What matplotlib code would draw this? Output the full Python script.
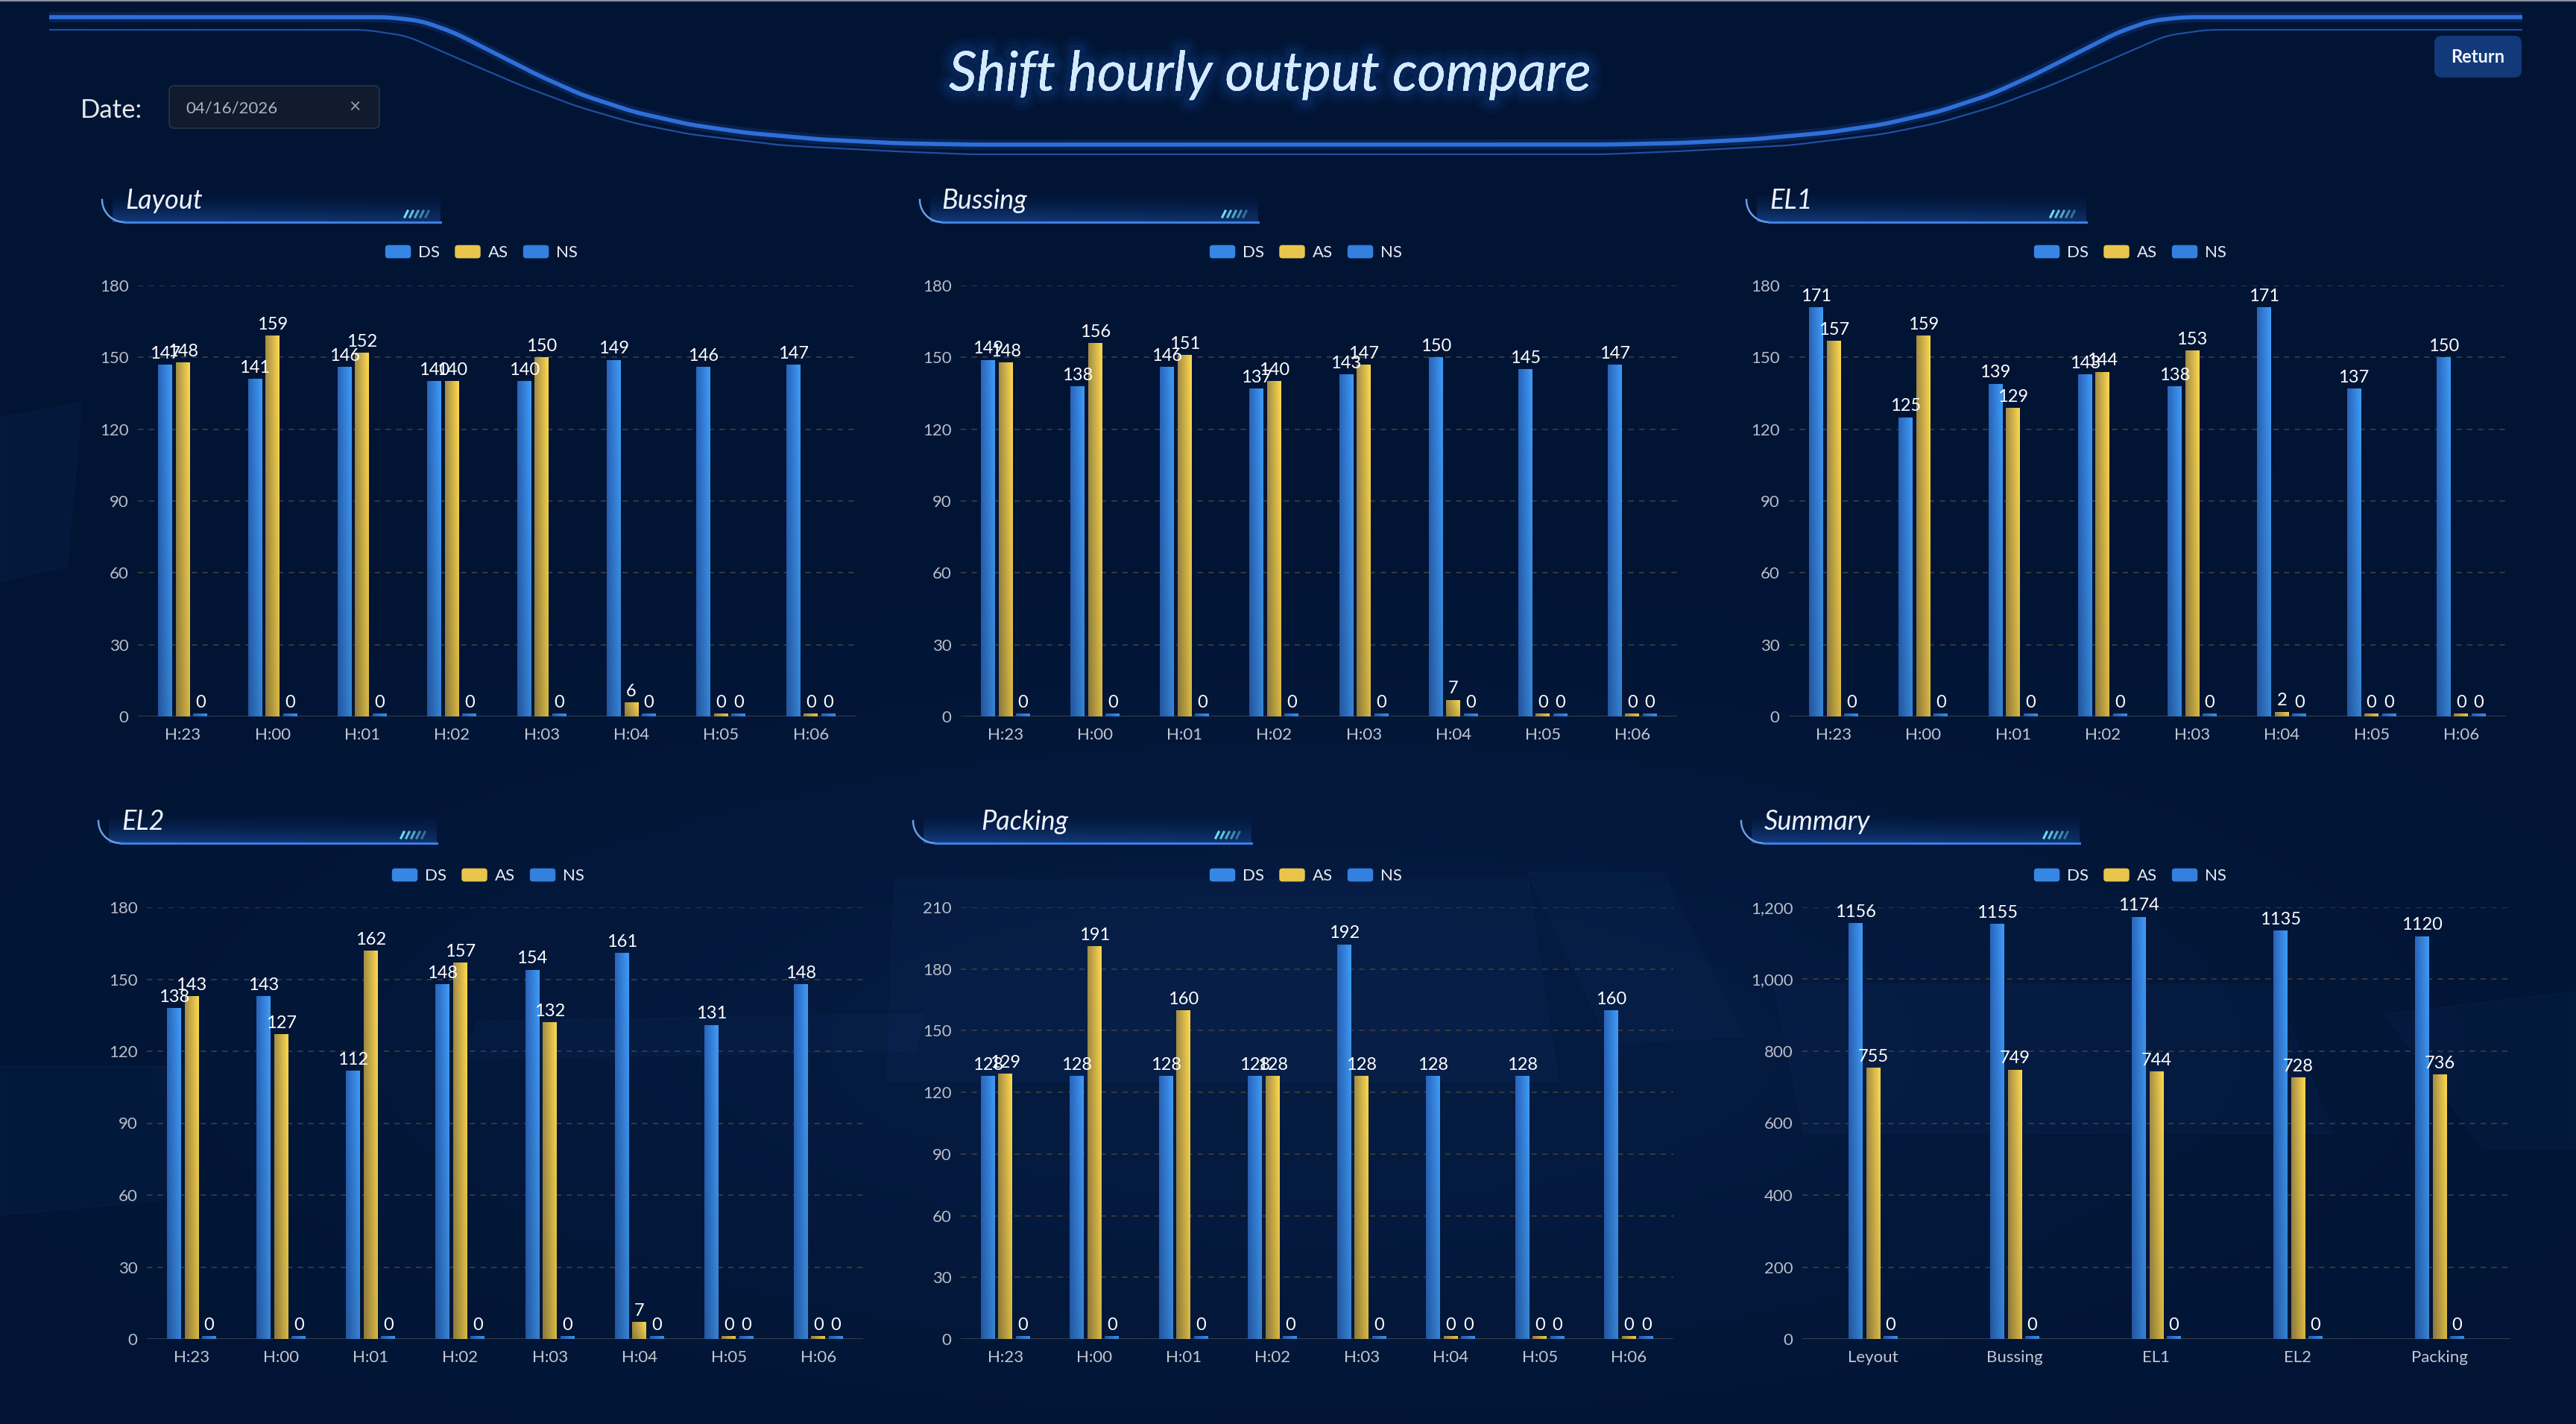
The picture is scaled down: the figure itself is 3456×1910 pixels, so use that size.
import numpy as np
import matplotlib
matplotlib.use('Agg')
from matplotlib import pyplot as plt
from matplotlib.patches import Patch, FancyBboxPatch, Polygon
from matplotlib.legend_handler import HandlerPatch
from matplotlib.ticker import FuncFormatter
import matplotlib.patheffects as pe

plt.rcParams['font.family'] = ['Lato', 'DejaVu Sans']

W, H = 3456, 1910

# ---------------- data ----------------
hours = ['H:23', 'H:00', 'H:01', 'H:02', 'H:03', 'H:04', 'H:05', 'H:06']

layout_ds = [147, 141, 146, 140, 140, 149, 146, 147]
layout_as = [148, 159, 152, 140, 150, 6, 0, 0]
layout_ns = [0, 0, 0, 0, 0, 0, 0, 0]

bussing_ds = [149, 138, 146, 137, 143, 150, 145, 147]
bussing_as = [148, 156, 151, 140, 147, 7, 0, 0]
bussing_ns = [0, 0, 0, 0, 0, 0, 0, 0]

el1_ds = [171, 125, 139, 143, 138, 171, 137, 150]
el1_as = [157, 159, 129, 144, 153, 2, 0, 0]
el1_ns = [0, 0, 0, 0, 0, 0, 0, 0]

el2_ds = [138, 143, 112, 148, 154, 161, 131, 148]
el2_as = [143, 127, 162, 157, 132, 7, 0, 0]
el2_ns = [0, 0, 0, 0, 0, 0, 0, 0]

packing_ds = [128, 128, 128, 128, 192, 128, 128, 160]
packing_as = [129, 191, 160, 128, 128, 0, 0, 0]
packing_ns = [0, 0, 0, 0, 0, 0, 0, 0]

lines = ['Leyout', 'Bussing', 'EL1', 'EL2', 'Packing']
summary_ds = [1156, 1155, 1174, 1135, 1120]
summary_as = [755, 749, 744, 728, 736]
summary_ns = [0, 0, 0, 0, 0]

series_names = ['DS', 'AS', 'NS']

# ---------------- style ----------------
BG = '#011434'
BLUE_L, BLUE_R = '#2a64ba', '#3f9cf8'
GOLD_L, GOLD_R = '#a38d48', '#ffd94e'
TICK_C = '#b9bec8'

fig = plt.figure(figsize=(W / 100, H / 100), dpi=100, facecolor=BG)

# background / decoration layer in pixel coords (y down)
bg = fig.add_axes([0, 0, 1, 1], zorder=-10)
bg.set_xlim(0, W)
bg.set_ylim(H, 0)
bg.axis('off')
bg.set_facecolor(BG)

# soft haze in the lower half
yy, xx = np.mgrid[0:H:10, 0:W:10]
haze = np.exp(-(((xx - 1750) / 1300) ** 2 + ((yy - 1400) / 420) ** 2))
rgba = np.zeros(haze.shape + (4,))
rgba[..., 0], rgba[..., 1], rgba[..., 2] = 0.10, 0.25, 0.50
rgba[..., 3] = haze * 0.18
bg.imshow(rgba, extent=[0, W, H, 0], aspect='auto', zorder=0)

# faint tiles
tiles = [
    [(640, 1370), (1240, 1360), (1230, 1410), (620, 1420)],
    [(1200, 1180), (2050, 1180), (2090, 1450), (1190, 1450)],
    [(2050, 1170), (2230, 1170), (2340, 1390), (2160, 1400)],
    [(2380, 1320), (3050, 1320), (3130, 1520), (2420, 1520)],
    [(0, 1430), (260, 1430), (220, 1610), (0, 1630)],
    [(3200, 1360), (3456, 1330), (3456, 1540), (3330, 1540)],
    [(0, 560), (110, 540), (90, 760), (0, 780)],
]
for t in tiles:
    bg.add_patch(Polygon(t, closed=True, fc='#2a5aa8', ec='#3a6cc0', lw=1, alpha=0.06, zorder=1))

# top border line
bg.plot([0, W], [1.5, 1.5], color='#8c929c', lw=1.5, zorder=2)

# header swoop lines (mirrored about the page centre)
cx = 1725
up_pts = [(66, 23), (520, 23), (565, 28), (610, 44), (665, 72), (720, 100), (780, 127),
          (850, 150), (925, 167), (1000, 178), (1100, 187), (1200, 192), (1300, 194)]
lo_pts = [(66, 40), (490, 40), (545, 48), (625, 83), (700, 115), (775, 143), (850, 165),
          (925, 180), (1050, 195), (1200, 203), (1300, 207)]


def mirrored(pts):
    x = [p[0] for p in pts]
    y = [p[1] for p in pts]
    xs = np.linspace(x[0], 2 * cx - x[0], 1500)
    xr = np.where(xs <= cx, xs, 2 * cx - xs)
    ys = np.interp(xr, x, y)
    # light smoothing of the polyline corners
    k = np.ones(15) / 15
    ys = np.convolve(np.pad(ys, 7, mode='edge'), k, mode='valid')
    return xs, ys


xs, ys = mirrored(up_pts)
bg.plot(xs, ys, color='#2f6fd8', lw=4, solid_capstyle='butt', zorder=3,
        path_effects=[pe.Stroke(linewidth=10, foreground='#1b4fa8', alpha=0.25), pe.Normal()])
xs, ys = mirrored(lo_pts)
bg.plot(xs, ys, color='#1f4f9f', lw=1.6, solid_capstyle='butt', zorder=3)

# title with soft glow
glow = [pe.withStroke(linewidth=w, foreground='#1a5cc0', alpha=a) for w, a in [(26, 0.06), (18, 0.08), (11, 0.12)]]
bg.text(1704, 101, 'Shift hourly output compare', ha='center', va='center', fontsize=53,
        style='italic', color='#d4eaff', zorder=5,
        path_effects=glow + [pe.Normal()])

# date picker
bg.text(108, 148, 'Date:', ha='left', va='center', fontsize=25, color='#e6e8ec')
bg.add_patch(FancyBboxPatch((227, 115), 282, 57, boxstyle='round,pad=0,rounding_size=7',
                            fc='#111b2e', ec='#2a3446', lw=1.2, zorder=2))
bg.text(249, 146, '04/16/2026', ha='left', va='center', fontsize=16, color='#aeb3bc', zorder=3)
bg.text(476, 143, '×', ha='center', va='center', fontsize=19, color='#9aa0aa', zorder=3)

# return button
bg.add_patch(FancyBboxPatch((3266, 48), 117, 56, boxstyle='round,pad=0,rounding_size=10',
                            fc='#12397a', ec='none', zorder=2))
bg.text(3324, 77, 'Return', ha='center', va='center', fontsize=17, fontweight='bold',
        color='#f2f5fa', zorder=3)


def header(x0, x1, ytop, ybot, tx, title):
    n = 40
    a = np.linspace(0, 1, n) ** 1.6 * 0.55
    img = np.zeros((n, 60, 4))
    img[..., 0], img[..., 1], img[..., 2] = 0.13, 0.36, 0.74
    img[..., 3] = a[:, None] * np.linspace(1.0, 0.75, 60)[None, :]
    bg.imshow(img, extent=[x0 + 14, x1, ybot, ytop + 6], aspect='auto', zorder=3)
    # rounded lower-left corner and bright bottom edge
    R = 30
    th = np.linspace(0, np.pi / 2, 30)
    bg.plot(x0 + R * (1 - np.cos(th)), ybot - R * (1 - np.sin(th)), color='#6a9de6', lw=1.8, zorder=4)
    bg.plot([x0 + R, x1], [ybot, ybot], color='#3d7fe0', lw=2.2, zorder=4)
    for k in range(5):
        sx = x1 - 48 + k * 7
        bg.plot([sx, sx + 4], [ybot - 7, ybot - 15], color='#6fe0f5', lw=2.2,
                alpha=1 - 0.15 * k, zorder=5)
    bg.text(tx, (ytop + ybot) / 2 - 4, title, ha='left', va='center', fontsize=26,
            style='italic', color='#eef2fa', zorder=5)


class RoundHandler(HandlerPatch):
    def create_artists(self, legend, orig, xdescent, ydescent, width, height, fontsize, trans):
        p = FancyBboxPatch((-xdescent, -ydescent), width, height,
                           boxstyle='round,pad=0,rounding_size=3',
                           fc=orig.get_facecolor(), ec='none', transform=trans)
        return [p]


def bar_image(c_left, c_right):
    cl = np.array(matplotlib.colors.to_rgb(c_left))
    cr = np.array(matplotlib.colors.to_rgb(c_right))
    h = np.linspace(0, 1, 32)[None, :, None]
    v = np.linspace(0.85, 1.0, 64)[:, None, None]  # bottom darker, top brighter
    rgb = (cl * (1 - h) + cr * h) * v
    return np.clip(rgb, 0, 1)


IMG_BLUE = bar_image(BLUE_L, BLUE_R)
IMG_GOLD = bar_image(GOLD_L, GOLD_R)


def panel(box, cats, ds, as_, ns, ymax, ystep, legend_xy, comma=False):
    x0, y0, x1, y1 = box
    ax = fig.add_axes([x0 / W, 1 - y1 / H, (x1 - x0) / W, (y1 - y0) / H])
    ax.set_facecolor('none')
    n = len(cats)
    x = np.arange(n)
    cat_px = (x1 - x0) / n
    bw = 19 / cat_px
    step = 23.5 / cat_px
    for k, (vals, img) in enumerate([(ds, IMG_BLUE), (as_, IMG_GOLD), (ns, IMG_BLUE)]):
        vals = np.asarray(vals, dtype=float)
        shown = np.maximum(vals, ymax * 0.007)
        bars = ax.bar(x + (k - 1) * step, shown, bw, color='none', zorder=3)
        for b in bars:
            im = ax.imshow(img, extent=[b.get_x(), b.get_x() + bw, 0, b.get_height()],
                           origin='lower', aspect='auto', zorder=3, interpolation='bilinear')
            im.set_clip_path(b)
        ax.bar_label(bars, labels=[f'{int(v)}' for v in vals], padding=3,
                     color='#ffffff', fontsize=17, zorder=5)
    ax.set_xlim(-0.5, n - 0.5)
    ax.set_ylim(0, ymax)
    ax.set_xticks(x)
    ax.set_xticklabels(cats)
    ax.set_yticks(np.arange(0, ymax + 1, ystep))
    if comma:
        ax.yaxis.set_major_formatter(FuncFormatter(lambda v, p: f'{v:,.0f}'))
    ax.tick_params(axis='x', length=0, pad=11, labelsize=16, labelcolor='#c3c7cf')
    ax.tick_params(axis='y', length=0, pad=9, labelsize=16, labelcolor=TICK_C)
    for s in ax.spines.values():
        s.set_visible(False)
    ax.yaxis.grid(True, linestyle=(0, (4, 4)), color='#3d3c36', lw=1.3)
    ax.set_axisbelow(True)
    ax.axhline(0, color='#363c46', lw=2.2, zorder=2)

    handles = [Patch(facecolor='#3686e6'), Patch(facecolor='#e9c54c'), Patch(facecolor='#3380df')]
    ax.legend(handles, series_names, loc='center', ncol=3, frameon=False,
              bbox_to_anchor=(legend_xy[0] / W, 1 - legend_xy[1] / H), bbox_transform=fig.transFigure,
              fontsize=16, labelcolor='#e8ecf2', handlelength=1.55, handleheight=0.85,
              handletextpad=0.45, columnspacing=0.9, handler_map={Patch: RoundHandler()})
    return ax


# headers
header(137, 591, 249, 298, 168, 'Layout')
header(1234, 1688, 249, 298, 1263, 'Bussing')
header(2343, 2799, 249, 298, 2374, 'EL1')
header(132, 586, 1082, 1131, 163, 'EL2')
header(1225, 1679, 1082, 1131, 1316, 'Packing')
header(2336, 2790, 1082, 1131, 2367, 'Summary')

# panels
panel((185, 383, 1148, 961), hours, layout_ds, layout_as, layout_ns, 180, 30, (646, 339))
panel((1289, 383, 2250, 961), hours, bussing_ds, bussing_as, bussing_ns, 180, 30, (1752, 339))
panel((2400, 383, 3362, 961), hours, el1_ds, el1_as, el1_ns, 180, 30, (2858, 339))
panel((197, 1217, 1158, 1796), hours, el2_ds, el2_as, el2_ns, 180, 30, (655, 1175))
panel((1289, 1217, 2245, 1796), hours, packing_ds, packing_as, packing_ns, 210, 30, (1752, 1175))
panel((2418, 1217, 3368, 1796), lines, summary_ds, summary_as, summary_ns, 1200, 200, (2858, 1175),
      comma=True)

fig.savefig('out.png', dpi=100, facecolor=BG)
